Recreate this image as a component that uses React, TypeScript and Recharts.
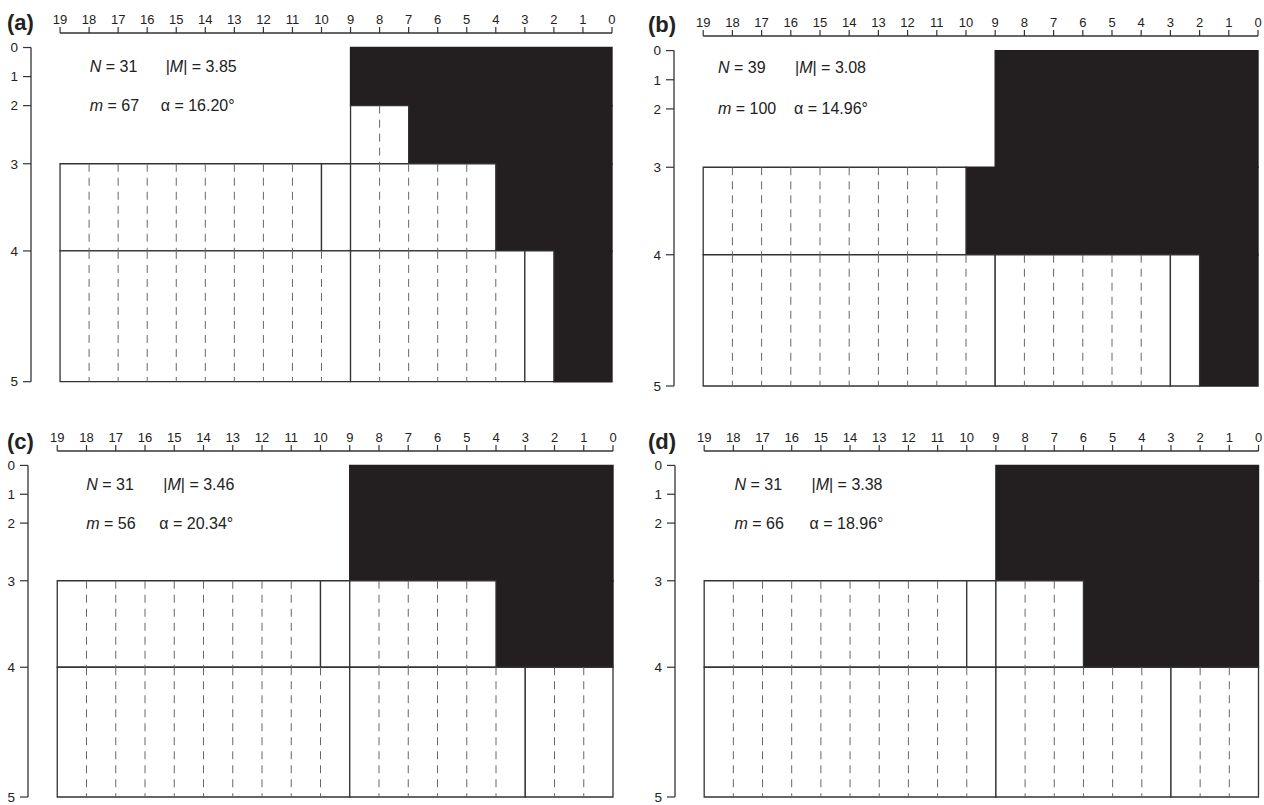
import React from 'react';
import { ComposedChart, ReferenceArea, ReferenceLine, Scatter, XAxis, YAxis } from 'recharts';

// top axis: positions 19 ... 0 (reversed)
const xTicks = [0, 1, 2, 3, 4, 5, 6, 7, 8, 9, 10, 11, 12, 13, 14, 15, 16, 17, 18, 19];
// left axis: level labels and where each level sits on the vertical scale
const levelTicks = [0, 1, 2, 3, 4, 5];
const levelPos = [0, 1, 2, 4, 7, 11.5];

// left edge of the black block in each row (row i runs from level i to level i+1), 0 = no black
const blackA = [9, 9, 7, 4, 2];
const blackB = [9, 9, 9, 10, 2];
const blackC = [9, 9, 9, 4, 0];
const blackD = [9, 9, 9, 6, 0];

// white boxes: [row, from, to]
const boxesA = [[2, 9, 7], [3, 19, 10], [3, 10, 9], [3, 9, 4], [4, 19, 9], [4, 9, 3], [4, 3, 2]];
const boxesB = [[3, 19, 10], [4, 19, 9], [4, 9, 3], [4, 3, 2]];
const boxesC = [[3, 19, 10], [3, 10, 9], [3, 9, 4], [4, 19, 9], [4, 9, 3], [4, 3, 0]];
const boxesD = [[3, 19, 10], [3, 10, 9], [3, 9, 6], [4, 19, 9], [4, 9, 3], [4, 3, 0]];

const panelLabels = ['(a)', '(b)', '(c)', '(d)'];
const nValues = [31, 39, 31, 31];
const absM = ['3.85', '3.08', '3.46', '3.38'];
const mValues = [67, 100, 56, 66];
const alphaValues = ['16.20', '14.96', '20.34', '18.96'];

const blacks = [blackA, blackB, blackC, blackD];
const boxes = [boxesA, boxesB, boxesC, boxesD];

// page layout of each plot area + text offsets
const layout = [
  { left: 30.7, top: 33, width: 581, height: 348.7, nX: 59, mX: 135, aX: 130, row1: 34, row2: 73, lx: 7, ly: 23 },
  { left: 674, top: 36, width: 584, height: 350, nX: 44, mX: 121, aX: 120, row1: 32, row2: 72.7, lx: 648, ly: 25 },
  { left: 28.3, top: 451.4, width: 585, height: 346, nX: 58, mX: 135, aX: 131, row1: 33.6, row2: 73, lx: 7, ly: 442 },
  { left: 674.5, top: 451.4, width: 583.5, height: 346, nX: 60, mX: 137, aX: 135, row1: 33.6, row2: 73, lx: 648, ly: 442 },
];

const Y_AXIS_W = 30;
const X_AXIS_H = 28;
const PAD = 4;
const PAD_B = 12;
const FONT = "'Liberation Sans', Arial, Helvetica, sans-serif";
const INK = '#231f20';

const Panel = ({ idx }: { idx: number }) => {
  const l = layout[idx];
  const black = blacks[idx];

  // merge neighbouring rows that share the same black edge
  const blackRects: { from: number; r0: number; r1: number }[] = [];
  black.forEach((b, r) => {
    if (b <= 0) return;
    const last = blackRects[blackRects.length - 1];
    if (last && last.from === b && last.r1 === r) last.r1 = r + 1;
    else blackRects.push({ from: b, r0: r, r1: r + 1 });
  });

  const dashes: { x: number; row: number }[] = [];
  boxes[idx].forEach(([row, from, to]) => {
    for (let k = to + 1; k < from; k++) dashes.push({ x: k, row });
  });

  // box corners, used only so the chart has a series tied to both axes
  const corners = boxes[idx].flatMap(([row, from, to]) => [
    { x: from, y: levelPos[row] },
    { x: to, y: levelPos[row + 1] },
  ]);

  const textStyle: React.CSSProperties = {
    position: 'absolute',
    fontFamily: FONT,
    fontSize: 16,
    color: '#222',
    whiteSpace: 'pre',
    transform: 'translateY(-50%)',
  };

  return (
    <>
      <div
        style={{
          position: 'absolute',
          left: l.left - Y_AXIS_W - PAD,
          top: l.top - X_AXIS_H - PAD,
        }}
      >
        <ComposedChart
          width={l.width + Y_AXIS_W + 2 * PAD}
          height={l.height + X_AXIS_H + PAD + PAD_B}
          margin={{ top: PAD, right: PAD, bottom: PAD_B, left: PAD }}
        >
          <XAxis
            dataKey='x'
            type='number'
            orientation='top'
            domain={[0, 20]}
            reversed
            ticks={xTicks}
            interval={0}
            allowDataOverflow
            axisLine={false}
            tickLine={{ stroke: '#333', strokeWidth: 1.2 }}
            tickSize={6}
            tickMargin={3}
            height={X_AXIS_H}
            tick={{ fontSize: 13, fill: '#222', fontFamily: FONT }}
          />
          <YAxis
            dataKey='y'
            type='number'
            domain={[-0.5, 11.5]}
            reversed
            ticks={levelPos}
            interval={0}
            allowDataOverflow
            axisLine={false}
            tickLine={{ stroke: '#333', strokeWidth: 1.2 }}
            tickSize={8}
            tickMargin={5}
            width={Y_AXIS_W}
            tickFormatter={(v) => String(levelTicks[levelPos.indexOf(v)])}
            tick={{ fontSize: 13.5, fill: '#222', fontFamily: FONT }}
          />
          {blackRects.map((b, i) => (
            <ReferenceArea
              key={`k${i}`}
              x1={b.from}
              x2={0}
              y1={levelPos[b.r0]}
              y2={levelPos[b.r1]}
              fill={INK}
              fillOpacity={1}
              stroke={INK}
              strokeWidth={1.4}
            />
          ))}
          {boxes[idx].map(([row, from, to], i) => (
            <ReferenceArea
              key={`w${i}`}
              x1={from}
              x2={to}
              y1={levelPos[row]}
              y2={levelPos[row + 1]}
              fill='#ffffff'
              fillOpacity={1}
              stroke='#333'
              strokeWidth={1.3}
            />
          ))}
          {dashes.map((d, i) => (
            <ReferenceLine
              key={`d${i}`}
              segment={[
                { x: d.x, y: levelPos[d.row] },
                { x: d.x, y: levelPos[d.row + 1] },
              ]}
              stroke='#666'
              strokeWidth={1}
              strokeDasharray='8 6'
            />
          ))}
          <ReferenceLine
            segment={[
              { x: 19, y: -0.5 },
              { x: 0, y: -0.5 },
            ]}
            stroke='#333'
            strokeWidth={1.3}
          />
          <ReferenceLine
            segment={[
              { x: 20, y: levelPos[0] },
              { x: 20, y: levelPos[levelPos.length - 1] },
            ]}
            stroke='#333'
            strokeWidth={1.3}
          />
          <Scatter data={corners} fill='none' shape={() => <g />} isAnimationActive={false} />
        </ComposedChart>
      </div>
      <div
        style={{
          position: 'absolute',
          left: l.lx,
          top: l.ly,
          transform: 'translateY(-50%)',
          fontFamily: FONT,
          fontWeight: 'bold',
          fontSize: 22,
          color: '#222',
        }}
      >
        {panelLabels[idx]}
      </div>
      <div style={{ ...textStyle, left: l.left + l.nX, top: l.top + l.row1 }}>
        <i>N</i> = {nValues[idx]}
      </div>
      <div style={{ ...textStyle, left: l.left + l.mX, top: l.top + l.row1 }}>
        |<i>M</i>| = {absM[idx]}
      </div>
      <div style={{ ...textStyle, left: l.left + l.nX, top: l.top + l.row2 }}>
        <i>m</i> = {mValues[idx]}
      </div>
      <div style={{ ...textStyle, left: l.left + l.aX, top: l.top + l.row2 }}>
        α = {alphaValues[idx]}°
      </div>
    </>
  );
};

const App = () => {
  return (
    <div
      style={{
        position: 'absolute',
        left: 0,
        top: 0,
        width: 1264,
        height: 805,
        overflow: 'hidden',
        background: '#fff',
      }}
    >
      {[0, 1, 2, 3].map((i) => (
        <Panel key={i} idx={i} />
      ))}
    </div>
  );
};

export default App;
